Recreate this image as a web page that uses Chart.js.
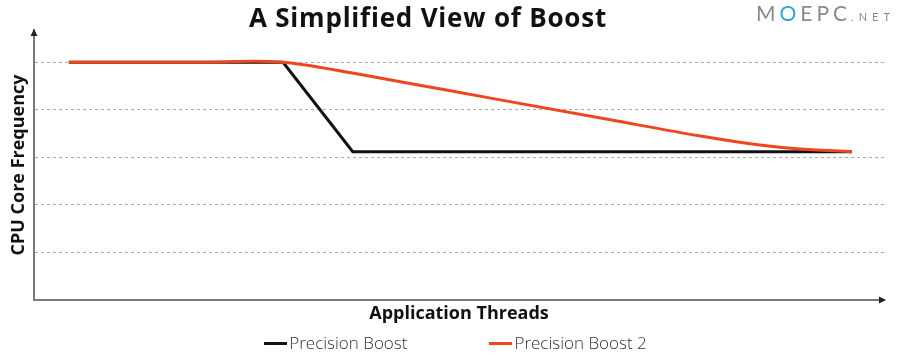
<!DOCTYPE html>
<html>
<head>
<meta charset="utf-8">
<script src="https://cdn.jsdelivr.net/npm/chart.js@4/dist/chart.umd.min.js"></script>
<style>
  html,body{margin:0;padding:0;background:#fff;}
  #wrap{position:relative;width:900px;height:354px;overflow:hidden;}
  #title{position:absolute;left:0;top:0px;width:856px;text-align:center;font:bold 26px 'Open Sans',sans-serif;letter-spacing:0.8px;color:#111;line-height:34px;}
  #wm{position:absolute;left:756px;top:0px;font:400 21px 'Lato',sans-serif;color:#8a8a8a;letter-spacing:4px;line-height:25px;white-space:nowrap;}
  #wm .o{color:#2aa5e0;}
  #wm .net{font-size:11px;letter-spacing:5px;margin-left:0px;}
  #legend{position:absolute;left:0;top:332px;width:911px;display:flex;justify-content:center;gap:82px;font:300 17px 'Open Sans',sans-serif;color:#333;line-height:22px;}
  #legend .item{display:flex;align-items:center;}
  #legend .sw{display:inline-block;width:23px;height:3px;margin-right:2px;}
</style>
</head>
<body>
<div id="wrap">
  <canvas id="c" width="900" height="354"></canvas>
  <div id="title">A Simplified View of Boost</div>
  <div id="wm">M<span class="o">O</span>EPC<span class="net">.NET</span></div>
  <div id="legend"></div>
</div>
<script>
// ---- data ----
const titleText = "A Simplified View of Boost";
const xAxisTitle = "Application Threads";
const yAxisTitle = "CPU Core Frequency";
const seriesNames = ["Precision Boost", "Precision Boost 2"];
const seriesColors = ["#111111", "#f0461e"];
const pbX = [4.1, 29.3, 37.5, 96.2];
const pbY = [5.0, 5.0, 3.12, 3.12];
const pb2X = [4.1, 20, 25.9, 29.3, 31.3, 37.3, 49, 67.8, 78.4, 85.4, 89.8, 96.2];
const pb2Y = [5.0, 5.0, 5.02, 5.0, 4.96, 4.78, 4.4, 3.79, 3.45, 3.26, 3.18, 3.12];
const gridLevels = [1, 2, 3, 4, 5];

const toPts = (xs, ys) => xs.map((x, i) => ({x: x, y: ys[i]}));

// HTML legend from series names
const leg = document.getElementById('legend');
seriesNames.forEach((n, i) => {
  const it = document.createElement('div'); it.className = 'item';
  const sw = document.createElement('span'); sw.className = 'sw'; sw.style.background = seriesColors[i];
  const t = document.createElement('span'); t.textContent = n;
  it.appendChild(sw); it.appendChild(t); leg.appendChild(it);
});

const arrows = {
  id: 'arrows',
  afterDraw(chart) {
    const {left, top, right, bottom} = chart.chartArea;
    const ctx = chart.ctx;
    ctx.save();
    ctx.fillStyle = '#222';
    ctx.beginPath();
    ctx.moveTo(left, top - 1); ctx.lineTo(left - 3.5, top + 6); ctx.lineTo(left + 3.5, top + 6); ctx.closePath(); ctx.fill();
    ctx.beginPath();
    ctx.moveTo(right + 2, bottom); ctx.lineTo(right - 5, bottom - 3.5); ctx.lineTo(right - 5, bottom + 3.5); ctx.closePath(); ctx.fill();
    ctx.restore();
  }
};

new Chart(document.getElementById('c'), {
  type: 'line',
  data: {
    datasets: [
      {label: seriesNames[0], data: toPts(pbX, pbY), borderColor: seriesColors[0], borderWidth: 3, pointRadius: 0, tension: 0, order: 1, borderJoinStyle: 'miter'},
      {label: seriesNames[1], data: toPts(pb2X, pb2Y), borderColor: seriesColors[1], borderWidth: 3, pointRadius: 0, cubicInterpolationMode: 'monotone', order: 0}
    ]
  },
  options: {
    responsive: false,
    animation: false,
    layout: {padding: {left: 0, top: 30, right: 16, bottom: 0}},
    plugins: {legend: {display: false}, title: {display: false}, tooltip: {enabled: false}},
    scales: {
      x: {
        type: 'linear', min: 0, max: 100,
        grid: {display: false, drawTicks: false},
        border: {display: true, color: '#7a7a7a', width: 2},
        ticks: {display: false},
        title: {display: true, text: xAxisTitle, color: '#111', font: {family: 'Open Sans', weight: 'bold', size: 18}, padding: {top: 0, bottom: 29}},
        afterFit(s) { s.height = 54; }
      },
      y: {
        min: 0, max: 5.68,
        afterBuildTicks(s) { s.ticks = gridLevels.map(v => ({value: v})); },
        grid: {drawTicks: false, color: '#aaaaaa', lineWidth: 1},
        border: {display: true, color: '#7a7a7a', width: 2, dash: [3, 3]},
        ticks: {display: false},
        title: {display: true, text: yAxisTitle, color: '#111', font: {family: 'Open Sans', weight: 'bold', size: 18}, padding: {top: 8, bottom: 0}},
        afterFit(s) { s.width = 34; }
      }
    }
  },
  plugins: [arrows]
});
</script>
</body>
</html>
